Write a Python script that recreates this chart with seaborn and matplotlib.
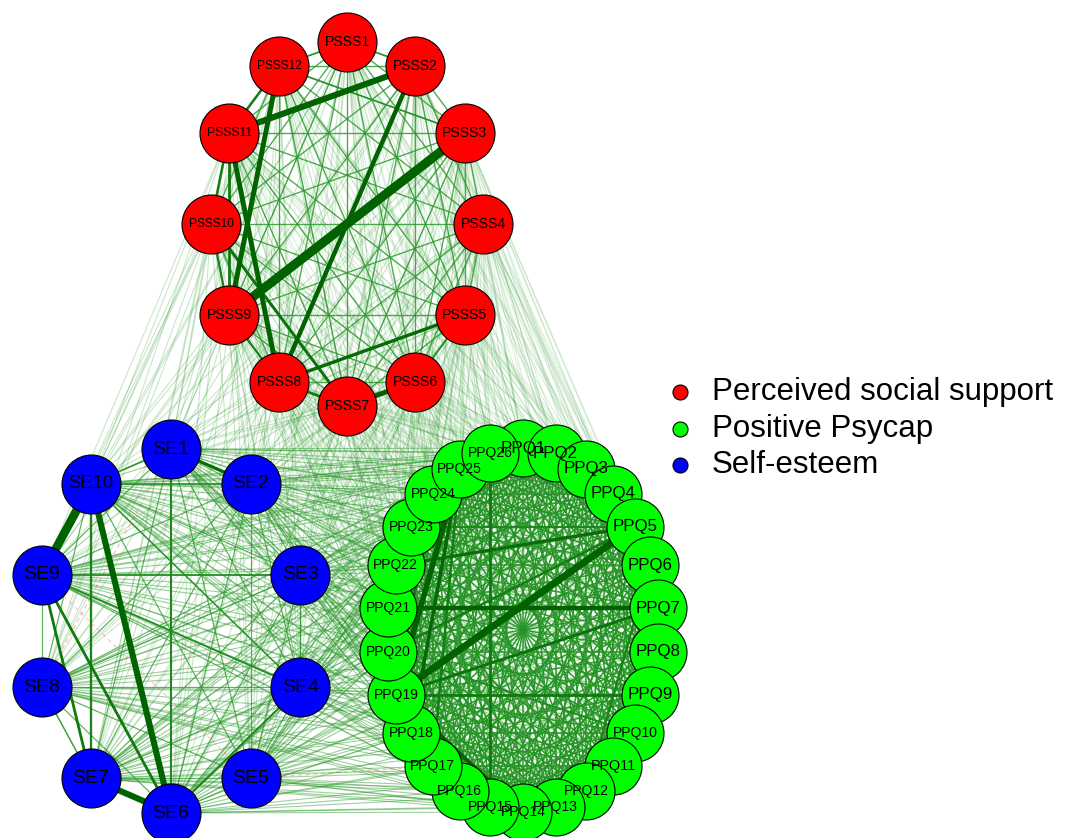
import numpy as np
import pandas as pd
import matplotlib
matplotlib.use("Agg")
import matplotlib.pyplot as plt
import seaborn as sns
from matplotlib.collections import LineCollection

sns.set_theme(style="white")
plt.rcParams['font.family'] = ['Liberation Sans', 'DejaVu Sans']

# -------------------
# Nodes
# -------------------
psss_labels = [f"PSSS{i}" for i in range(1, 13)]
ppq_labels = [f"PPQ{i}" for i in range(1, 27)]
se_labels = [f"SE{i}" for i in range(1, 11)]

group_names = ["Perceived social support", "Positive Psycap", "Self-esteem"]
group_colors = ["#FF0000", "#00FF00", "#0000FF"]

# -------------------
# Edges (partial correlations, read from line widths)
# -------------------
strong_edges = [
    ("PSSS3", "PSSS9", 0.75), ("PSSS2", "PSSS11", 0.50), ("PSSS2", "PSSS8", 0.36),
    ("PSSS12", "PSSS9", 0.40), ("PSSS11", "PSSS8", 0.40), ("PSSS7", "PSSS6", 0.40),
    ("PSSS10", "PSSS7", 0.24), ("PSSS8", "PSSS5", 0.27), ("PSSS11", "PSSS9", 0.22),
    ("PSSS11", "PSSS10", 0.20), ("PSSS10", "PSSS9", 0.18), ("PSSS8", "PSSS7", 0.22),
    ("PSSS9", "PSSS8", 0.18), ("PSSS12", "PSSS11", 0.20), ("PSSS12", "PSSS3", 0.13),
    ("PSSS6", "PSSS5", 0.15), ("PSSS1", "PSSS12", 0.13), ("PSSS1", "PSSS2", 0.13),
    ("SE10", "SE9", 0.70), ("SE10", "SE6", 0.50), ("SE7", "SE6", 0.50),
    ("SE1", "SE2", 0.26), ("SE9", "SE7", 0.22), ("SE9", "SE6", 0.22),
    ("SE10", "SE7", 0.18), ("SE1", "SE6", 0.16), ("SE4", "SE6", 0.16),
    ("SE9", "SE3", 0.14), ("SE10", "SE2", 0.13), ("SE9", "SE4", 0.14),
    ("SE10", "SE4", 0.12), ("SE3", "SE4", 0.11), ("SE8", "SE7", 0.11),
    ("SE1", "SE10", 0.12),
    ("PPQ5", "PPQ19", 0.58), ("PPQ25", "PPQ19", 0.45), ("PPQ25", "PPQ18", 0.28),
    ("PPQ21", "PPQ7", 0.36), ("PPQ19", "PPQ14", 0.32), ("PPQ10", "PPQ14", 0.26),
    ("PPQ19", "PPQ9", 0.22), ("PPQ26", "PPQ15", 0.22), ("PPQ5", "PPQ22", 0.26),
    ("PPQ5", "PPQ20", 0.20), ("PPQ5", "PPQ23", 0.16), ("PPQ7", "PPQ19", 0.24),
    ("PPQ25", "PPQ17", 0.20), ("PPQ2", "PPQ5", 0.20), ("PPQ6", "PPQ12", 0.18),
    ("PPQ21", "PPQ19", 0.38), ("PPQ20", "PPQ19", 0.30), ("PPQ19", "PPQ17", 0.20),
    ("PPQ17", "PPQ14", 0.18), ("PPQ20", "PPQ10", 0.15), ("PPQ24", "PPQ19", 0.22),
]
negative_edges = [("SE8", "SE1", -0.05), ("SE5", "PPQ17", -0.05), ("SE9", "SE5", -0.04)]

# weak edges present between every other pair of nodes
within_weak = {"Perceived social support": 0.10, "Positive Psycap": 0.115, "Self-esteem": 0.09}
between_weak = {("Perceived social support", "Positive Psycap"): 0.02,
                ("Perceived social support", "Self-esteem"): 0.03,
                ("Positive Psycap", "Self-esteem"): 0.055}

# -------------------
# Layout (groups on ellipses, pixel space)
# -------------------
W, H = 1072, 838
centers = {"Perceived social support": (347, 224), "Positive Psycap": (523, 630), "Self-esteem": (171, 631)}
RX, RY = 136, 182
node_r = {"Perceived social support": 29.5, "Positive Psycap": 28.5, "Self-esteem": 29.5}

rows = []
for g, labs in zip(group_names, [psss_labels, ppq_labels, se_labels]):
    cx, cy = centers[g]
    for i, lab in enumerate(labs):
        a = 2 * np.pi * i / len(labs)
        rows.append({"label": lab, "group": g, "x": cx + RX * np.sin(a), "y": cy - RY * np.cos(a)})
nodes = pd.DataFrame(rows).set_index("label")

weights = {}
labs_all = list(nodes.index)
for i in range(len(labs_all)):
    for j in range(i + 1, len(labs_all)):
        gi, gj = nodes.loc[labs_all[i], "group"], nodes.loc[labs_all[j], "group"]
        if gi == gj:
            w = within_weak[gi]
        else:
            w = between_weak.get((gi, gj), between_weak.get((gj, gi)))
        weights[frozenset((labs_all[i], labs_all[j]))] = w
for a, b, w in strong_edges + negative_edges:
    weights[frozenset((a, b))] = w

fig = plt.figure(figsize=(W / 100, H / 100), dpi=100)
ax = fig.add_axes([0, 0, 1, 1])
ax.set_xlim(0, W)
ax.set_ylim(H, 0)
ax.axis("off")

weak_rgb = np.array([0.16, 0.6, 0.16])
strong_rgb = np.array([0.0, 0.39, 0.0])
segs, cols, lws, styles = [], [], [], []
for key, w in sorted(weights.items(), key=lambda kv: abs(kv[1])):
    a, b = tuple(key)
    aw = abs(w)
    t = np.clip((aw - 0.1) / 0.2, 0, 1)
    rgb = weak_rgb * (1 - t) + strong_rgb * t if w > 0 else np.array([1.0, 0.3, 0.3])
    alpha = np.clip(aw / 0.12, 0.1, 1)
    segs.append([(nodes.loc[a, "x"], nodes.loc[a, "y"]), (nodes.loc[b, "x"], nodes.loc[b, "y"])])
    cols.append((*rgb, alpha))
    lws.append((1.1 + 12 * max(aw - 0.08, 0)) * 0.72)
    styles.append("solid" if w > 0 else (0, (4, 3)))
ax.add_collection(LineCollection(segs, colors=cols, linewidths=lws, linestyles=styles, zorder=1,
                                 capstyle="butt"))

# -------------------
# Nodes
# -------------------
for g, c in zip(group_names, group_colors):
    d = nodes[nodes.group == g]
    diam_pt = 2 * node_r[g] * 0.72
    sns.scatterplot(x=d.x, y=d.y, color=c, s=diam_pt ** 2, edgecolor="black", linewidth=0.8,
                    legend=False, ax=ax, zorder=3)

renderer = fig.canvas.get_renderer()
for lab, r in nodes.iterrows():
    t = ax.text(r.x, r.y, lab, ha="center", va="center", fontsize=10, color="black", zorder=5)
    wpx = t.get_window_extent(renderer).width
    t.set_fontsize(min(10 * 45 / wpx, 14))

# -------------------
# Legend
# -------------------
for k, (g, c) in enumerate(zip(group_names, group_colors)):
    yy = 392 + k * 36.5
    ax.scatter([680], [yy], s=(15 * 0.72) ** 2, color=c, edgecolor="black", linewidth=0.8, zorder=5)
    ax.text(712, yy, g, ha="left", va="center", fontsize=22.5, color="black")

fig.savefig("out.png", dpi=100)
